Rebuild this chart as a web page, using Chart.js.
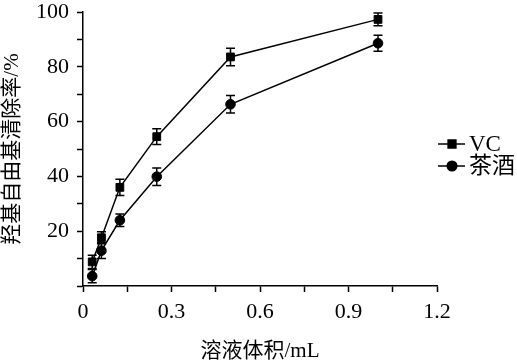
<!DOCTYPE html>
<html>
<head>
<meta charset="utf-8">
<script src="https://cdn.jsdelivr.net/npm/chart.js@4"></script>
<style>
  html, body { margin: 0; padding: 0; background: #fff; }
  canvas { display: block; }
</style>
</head>
<body>
<canvas id="chart" width="517" height="364"></canvas>
<script>
// 溶液体积 (mL)
const volumes = [0.03125, 0.0625, 0.125, 0.25, 0.5, 1.0];

// 羟基自由基清除率 (%)
const vcRates = [8.8, 17.6, 36.0, 54.5, 83.6, 97.3];
const vcErrors = [2.4, 2.2, 3.0, 2.9, 3.2, 2.3];
const teaRates = [3.6, 12.9, 24.0, 39.9, 66.3, 88.6];
const teaErrors = [2.4, 2.9, 2.3, 3.2, 3.2, 2.9];

const seriesLabels = ['VC', '茶酒'];
const xTitle = '溶液体积/mL';
const yTitle = '羟基自由基清除率/%';

const FONT = "'Liberation Serif', 'Noto Sans CJK SC', serif";

function toPoints(xs, ys) {
    return xs.map((x, i) => ({ x: x, y: ys[i] }));
}

// barras de error verticales con sus topes
const errorBars = {
    id: 'errorBars',
    beforeDatasetsDraw(chart) {
        const ctx = chart.ctx;
        const xs = chart.scales.x;
        const ys = chart.scales.y;
        const errs = [vcErrors, teaErrors];
        ctx.save();
        ctx.strokeStyle = '#000';
        ctx.lineWidth = 1.5;
        chart.data.datasets.forEach((ds, di) => {
            ds.data.forEach((p, i) => {
                const px = xs.getPixelForValue(p.x);
                const top = ys.getPixelForValue(p.y + errs[di][i]);
                const bot = ys.getPixelForValue(p.y - errs[di][i]);
                ctx.beginPath();
                ctx.moveTo(px, top); ctx.lineTo(px, bot);
                ctx.moveTo(px - 4.5, top); ctx.lineTo(px + 4.5, top);
                ctx.moveTo(px - 4.5, bot); ctx.lineTo(px + 4.5, bot);
                ctx.stroke();
            });
        });
        ctx.restore();
    }
};

// leyenda a la derecha: linea + marcador + texto
const sideLegend = {
    id: 'sideLegend',
    afterDraw(chart) {
        const ctx = chart.ctx;
        const area = chart.chartArea;
        const x0 = area.right + 1;
        const rows = [area.top + 132, area.top + 154];
        ctx.save();
        chart.data.datasets.forEach((ds, i) => {
            const y = rows[i];
            ctx.strokeStyle = '#000';
            ctx.lineWidth = 1.5;
            ctx.beginPath();
            ctx.moveTo(x0, y);
            ctx.lineTo(x0 + 27, y);
            ctx.stroke();
            ctx.fillStyle = '#000';
            Chart.helpers.drawPoint(ctx, {
                pointStyle: ds.pointStyle,
                radius: ds.pointRadius,
                borderWidth: 1
            }, x0 + 14, y);
            ctx.fill();
            ctx.font = '23px ' + FONT;
            ctx.textBaseline = 'middle';
            ctx.textAlign = 'left';
            ctx.fillText(ds.label, x0 + 31, y + 1);
        });
        ctx.restore();
    }
};

const common = {
    borderColor: '#000',
    backgroundColor: '#000',
    pointBackgroundColor: '#000',
    pointBorderColor: '#000',
    pointBorderWidth: 1,
    borderWidth: 1.5,
    showLine: true,
    tension: 0,
    fill: false
};

new Chart(document.getElementById('chart').getContext('2d'), {
    type: 'scatter',
    data: {
        datasets: [
            Object.assign({}, common, {
                label: seriesLabels[0],
                data: toPoints(volumes, vcRates),
                pointStyle: 'rect',
                pointRadius: 5.5
            }),
            Object.assign({}, common, {
                label: seriesLabels[1],
                data: toPoints(volumes, teaRates),
                pointStyle: 'circle',
                pointRadius: 4.8
            })
        ]
    },
    options: {
        responsive: false,
        animation: false,
        devicePixelRatio: 1,
        layout: { padding: { top: 12, right: 80, left: 0, bottom: 0 } },
        plugins: {
            legend: { display: false },
            tooltip: { enabled: false }
        },
        scales: {
            x: {
                type: 'linear',
                min: 0,
                max: 1.2,
                afterFit: s => { s.height = 78; },
                border: { display: true, color: '#000', width: 1.5 },
                grid: { drawOnChartArea: false, color: '#000', tickLength: 6, tickWidth: 1.5 },
                ticks: {
                    stepSize: 0.15,
                    color: '#000',
                    padding: 7,
                    maxRotation: 0,
                    autoSkip: false,
                    font: { family: FONT, size: 22 },
                    callback: v => {
                        const k = Math.round(v / 0.15);
                        if (k % 2 !== 0) return '';
                        return k === 0 ? '0' : (k * 0.15).toFixed(1);
                    }
                },
                title: {
                    display: true,
                    text: xTitle,
                    color: '#000',
                    padding: 0,
                    font: { family: FONT, size: 21 }
                }
            },
            y: {
                type: 'linear',
                min: 0,
                max: 100,
                afterFit: s => { s.width = 83; },
                border: { display: true, color: '#000', width: 1.5 },
                grid: { drawOnChartArea: false, color: '#000', tickLength: 6, tickWidth: 1.5 },
                ticks: {
                    stepSize: 10,
                    color: '#000',
                    padding: 8,
                    autoSkip: false,
                    font: { family: FONT, size: 22, lineHeight: 0.35 },
                    callback: v => (v !== 0 && v % 20 === 0) ? String(v) : ''
                },
                title: {
                    display: true,
                    text: yTitle,
                    color: '#000',
                    padding: 0,
                    font: { family: FONT, size: 21 }
                }
            }
        }
    },
    plugins: [errorBars, sideLegend]
});
</script>
</body>
</html>
